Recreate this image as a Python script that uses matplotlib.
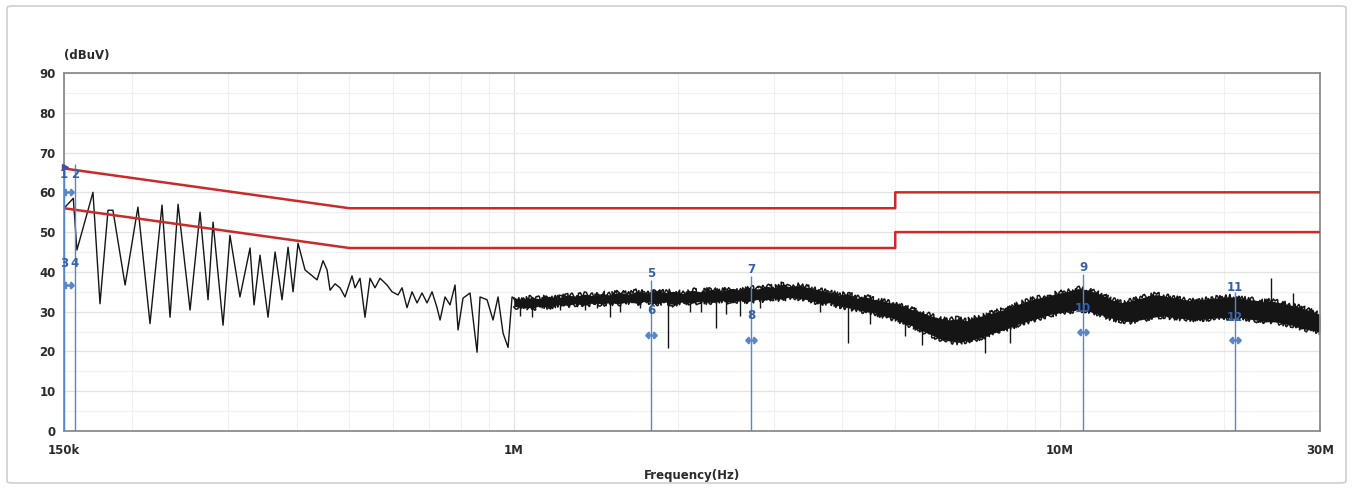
import matplotlib
matplotlib.use("Agg")

import matplotlib.pyplot as plt
from matplotlib.patches import FancyBboxPatch
from matplotlib.ticker import FixedLocator, FixedFormatter, NullFormatter


# -----------------------------
# DATA (frequency in MHz, level in dBuV)
# -----------------------------
# quasi-peak / average limit lines
qp_limit_freq = [0.15, 0.5, 5.0, 5.0, 30.0]
qp_limit_level = [66, 56, 56, 60, 60]
av_limit_freq = [0.15, 0.5, 5.0, 5.0, 30.0]
av_limit_level = [56, 46, 46, 50, 50]

# measured trace, low-frequency part (read peak by peak)
trace_freq = [
    0.1500, 0.1560, 0.1584, 0.1695, 0.1746, 0.1806, 0.1844, 0.1941, 0.2049,
    0.2156, 0.2268, 0.2346, 0.2427, 0.2553, 0.2663, 0.2754, 0.2813, 0.2934,
    0.3021, 0.3151, 0.3288, 0.3344, 0.3429, 0.3547, 0.3654, 0.3763, 0.3860,
    0.3942, 0.4026, 0.4146, 0.4362, 0.4474, 0.4550, 0.4608, 0.4706, 0.4806,
    0.4908, 0.5055, 0.5120, 0.5229, 0.5340, 0.5454, 0.5570, 0.5690, 0.5859,
    0.5985, 0.6138, 0.6243, 0.6375, 0.6512, 0.6651, 0.6792, 0.6937, 0.7086,
    0.7236, 0.7329, 0.7485, 0.7644, 0.7807, 0.7907, 0.8074, 0.8317, 0.8567,
    0.8676, 0.8936, 0.9164, 0.9360, 0.9560, 0.9764, 0.9930, 1.0142,
]
trace_level = [
    56.0, 58.5, 45.5, 60.0, 32.0, 55.5, 55.5, 36.7, 56.3,
    27.0, 56.8, 28.6, 57.0, 30.4, 55.0, 33.0, 52.5, 26.6,
    49.2, 33.7, 46.0, 31.7, 44.2, 28.6, 45.0, 33.0, 46.2,
    35.0, 47.2, 40.5, 38.0, 42.8, 40.5, 35.4, 37.0, 36.0,
    33.7, 39.0, 36.0, 38.4, 28.6, 38.4, 36.0, 38.4, 36.7,
    35.0, 34.2, 36.0, 31.0, 35.0, 32.2, 34.7, 32.2, 35.0,
    31.0, 27.9, 33.7, 31.7, 36.7, 25.4, 33.4, 34.7, 19.8,
    33.7, 33.0, 27.9, 33.7, 24.6, 21.0, 33.7, 33.0,
]

# dense noise band above 1 MHz: upper / lower edge of the black band
band_freq = [
    1.00, 1.04, 1.08, 1.12, 1.16, 1.20, 1.25, 1.30, 1.35, 1.40, 1.45, 1.50,
    1.56, 1.62, 1.68, 1.75, 1.82, 1.89, 1.96, 2.04, 2.12, 2.20, 2.30, 2.40,
    2.50, 2.60, 2.70, 2.80, 2.90, 3.00, 3.10, 3.20, 3.35, 3.50, 3.65, 3.80,
    3.95, 4.10, 4.25, 4.40, 4.60, 4.80, 5.00, 5.20, 5.40, 5.60, 5.80, 6.00,
    6.25, 6.50, 6.75, 7.00, 7.30, 7.60, 7.90, 8.20, 8.50, 8.80, 9.20, 9.60,
    10.0, 10.4, 10.8, 11.2, 11.6, 12.0, 12.5, 13.0, 13.5, 14.0, 14.5, 15.0,
    15.6, 16.2, 16.8, 17.5, 18.2, 18.9, 19.6, 20.4, 21.2, 22.0, 22.8, 23.6,
    24.4, 25.2, 26.0, 26.8, 27.6, 28.4, 29.2, 30.0,
]
band_hi = [
    33.4, 33.0, 33.6, 33.2, 33.8, 33.4, 34.2, 33.9, 34.4, 34.0, 34.6, 34.2,
    34.9, 34.4, 35.1, 34.7, 35.3, 34.8, 35.1, 34.6, 35.4, 35.0, 35.6, 35.2,
    35.8, 35.4, 36.0, 35.7, 36.4, 36.1, 36.8, 36.3, 36.6, 35.9, 35.3, 34.8,
    34.2, 34.5, 33.4, 33.8, 32.9, 32.5, 31.9, 31.3, 30.4, 29.8, 29.0, 28.4,
    27.9, 28.2, 27.7, 28.5, 29.1, 29.9, 30.5, 31.3, 32.1, 32.9, 33.5, 34.1,
    34.7, 35.1, 35.8, 35.5, 34.9, 34.1, 32.9, 32.3, 32.7, 33.3, 33.9, 34.3,
    33.9, 33.5, 33.1, 32.7, 32.9, 33.3, 33.5, 33.7, 33.5, 33.1, 32.9, 32.5,
    32.7, 32.3, 31.9, 31.5, 31.1, 30.5, 29.9, 29.3,
]
band_lo = [
    31.2, 31.5, 30.8, 31.6, 31.2, 31.8, 31.6, 32.0, 31.6, 32.3, 31.9, 32.3,
    32.0, 32.5, 32.1, 32.7, 32.0, 32.5, 31.8, 32.5, 32.1, 32.7, 32.3, 32.9,
    32.4, 33.0, 32.6, 33.1, 32.9, 33.5, 33.1, 33.7, 33.3, 32.9, 32.0, 32.3,
    31.4, 31.0, 30.6, 30.0, 29.6, 28.8, 28.2, 27.1, 26.3, 25.2, 24.3, 23.3,
    22.7, 22.3, 22.7, 23.1, 23.9, 24.7, 25.5, 26.3, 27.1, 27.7, 28.5, 29.3,
    29.7, 30.1, 30.5, 30.3, 29.7, 29.1, 28.3, 27.7, 27.5, 27.9, 28.3, 28.7,
    28.9, 28.5, 28.3, 27.9, 28.1, 28.3, 28.5, 28.5, 28.7, 28.3, 27.9, 27.7,
    27.5, 27.3, 26.9, 26.5, 25.9, 25.5, 25.3, 24.9,
]

# isolated spikes sticking out of the band
spike_freq = [1.027, 1.08, 1.216, 1.35, 1.421, 1.50, 1.566, 1.704, 1.92, 2.10,
              2.20, 2.35, 2.45, 2.60, 2.83, 3.64, 4.10, 4.50, 5.21, 5.60,
              7.30, 8.10, 24.4, 26.8]
spike_from = [32.0, 32.0, 32.5, 33.0, 33.0, 33.0, 33.2, 33.5, 33.5, 33.5,
              33.8, 34.0, 34.0, 34.2, 34.5, 33.5, 32.5, 31.5, 29.0, 27.0,
              26.0, 28.0, 30.0, 28.5]
spike_to = [29.0, 28.6, 30.5, 30.4, 31.0, 28.6, 30.0, 31.0, 20.9, 30.0,
            30.0, 25.9, 29.5, 29.0, 31.0, 30.0, 22.0, 27.0, 24.0, 21.5,
            19.5, 22.0, 38.5, 34.7]

# measurement markers
marker_freq = [0.150, 0.157, 1.785, 2.72, 11.04, 20.97]
marker_top = [67.0, 67.0, 38.0, 39.0, 39.5, 35.0]
upper_labels = ["1", "2", "5", "7", "9", "11"]
upper_label_level = [64.5, 64.5, 39.7, 40.5, 41.0, 36.0]
lower_labels = ["3", "4", "6", "8", "10", "12"]
lower_label_level = [42.2, 42.2, 30.4, 29.1, 30.9, 28.6]
arrow_freq = [0.1525, 0.1525, 1.785, 2.72, 11.04, 20.97]
arrow_level = [60.0, 36.7, 24.1, 22.9, 24.9, 22.9]

x_ticks = [0.15, 1.0, 10.0, 30.0]
x_tick_labels = ["150k", "1M", "10M", "30M"]
y_ticks = [0, 10, 20, 30, 40, 50, 60, 70, 80, 90]


# -----------------------------
# STYLE
# -----------------------------
TEXT = "#2b2b2b"
SPINE = "#8c8c8c"
GRID_MAJOR = "#e3e3e3"
GRID_MINOR = "#f0f0f0"
LIMIT = "#cc2a2a"
TRACE = "#151515"
MARK = "#5a86c8"
MARK_TEXT = "#3560aa"

plt.rcParams["font.family"] = ["DejaVu Sans"]

W, H = 1354, 488
fig = plt.figure(figsize=(W / 100, H / 100), dpi=100, facecolor="white")

# outer frame of the screenshot
frame = FancyBboxPatch(
    (7 / W, 5 / H), 1339 / W, 477 / H,
    boxstyle="round,pad=0,rounding_size=0.004",
    transform=fig.transFigure, facecolor="white",
    edgecolor="#cfcfcf", linewidth=1.2, zorder=-10,
)
fig.patches.append(frame)

ax = fig.add_axes([64 / W, 57 / H, 1256 / W, 358 / H])
ax.set_zorder(5)
ax.set_facecolor("white")
ax.set_xscale("log")
ax.set_xlim(0.15, 30)
ax.set_ylim(0, 90)

# grid
ax.xaxis.set_major_locator(FixedLocator(x_ticks))
ax.xaxis.set_major_formatter(FixedFormatter(x_tick_labels))
ax.xaxis.set_minor_locator(FixedLocator([0.2, 0.3, 0.4, 0.5, 0.6, 0.7, 0.8, 0.9,
                                         2, 3, 4, 5, 6, 7, 8, 9, 20]))
ax.xaxis.set_minor_formatter(NullFormatter())
ax.yaxis.set_major_locator(FixedLocator(y_ticks))
ax.yaxis.set_minor_locator(FixedLocator([5, 15, 25, 35, 45, 55, 65, 75, 85]))
ax.grid(True, which="major", color=GRID_MAJOR, linewidth=0.9, zorder=0)
ax.grid(True, which="minor", color=GRID_MINOR, linewidth=0.8, zorder=0)
ax.set_axisbelow(True)

for spine in ax.spines.values():
    spine.set_color(SPINE)
    spine.set_linewidth(1.3)

ax.tick_params(axis="both", which="both", length=0)
ax.tick_params(axis="y", pad=6)
ax.tick_params(axis="x", pad=9)
for lbl in ax.get_xticklabels() + ax.get_yticklabels():
    lbl.set_fontweight("bold")
    lbl.set_fontsize(8.5)
    lbl.set_color(TEXT)

# measured spectrum
ax.plot(trace_freq, trace_level, color=TRACE, linewidth=1.0, zorder=2)

ax.fill_between(band_freq, band_lo, band_hi, color=TRACE, linewidth=0, zorder=2)
# ragged edges of the noise band (render style only, data stays the read envelope)
for edge in (band_hi, band_lo):
    edge_line, = ax.plot(band_freq, edge, color=TRACE, linewidth=1.1, zorder=2)
    edge_line.set_sketch_params(scale=2.6, length=2.5, randomness=4)

ax.vlines(spike_freq, spike_from, spike_to, color=TRACE, linewidth=1.0, zorder=2)

# limits
ax.plot(qp_limit_freq, qp_limit_level, color=LIMIT, linewidth=1.8, zorder=3)
ax.plot(av_limit_freq, av_limit_level, color=LIMIT, linewidth=1.8, zorder=3)

# markers
ax.vlines(marker_freq, 0, marker_top, color=MARK, linewidth=1.0, zorder=4)
ax.plot(arrow_freq, arrow_level, linestyle="none", marker=r"$\leftrightarrow$",
        markersize=8, color=MARK, zorder=5)
ax.plot([0.1505], [66.3], linestyle="none", marker=">", markersize=5,
        color="#4b4b9c", zorder=5, clip_on=False)
for f, v, t in zip(marker_freq, upper_label_level, upper_labels):
    ax.text(f, v, t, color=MARK_TEXT, fontsize=8.5, fontweight="bold",
            ha="center", va="center", zorder=6)
for f, v, t in zip(marker_freq, lower_label_level, lower_labels):
    ax.text(f, v, t, color=MARK_TEXT, fontsize=8.5, fontweight="bold",
            ha="center", va="center", zorder=6)

# axis titles
fig.text(64 / W, 1 - 55 / H, "(dBuV)", fontsize=8.5, fontweight="bold",
         color=TEXT, ha="left", va="center")
fig.text(692 / W, 1 - 475 / H, "Frequency(Hz)", fontsize=8.5, fontweight="bold",
         color=TEXT, ha="center", va="center")

fig.savefig("out.png", dpi=100, facecolor="white")
plt.close(fig)
